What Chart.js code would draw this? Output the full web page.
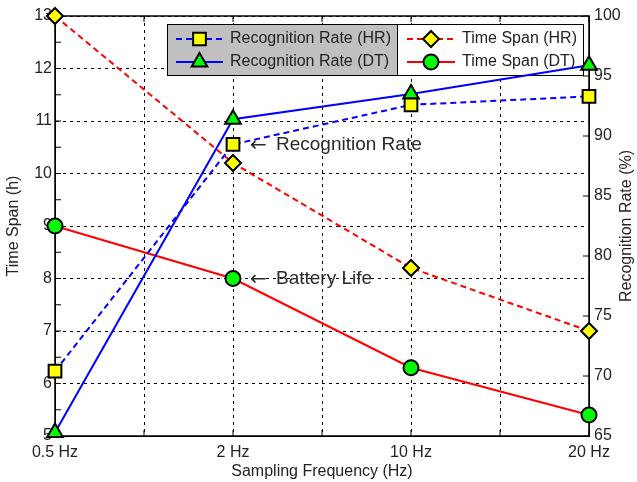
<!DOCTYPE html>
<html>
<head>
<meta charset="utf-8">
<script src="https://cdn.jsdelivr.net/npm/chart.js@4.4.1/dist/chart.umd.min.js"></script>
<style>
  html, body { margin: 0; padding: 0; background: #fff; }
</style>
</head>
<body>
<canvas id="chart" width="637" height="482"></canvas>
<script>
"use strict";

// ── Data ─────────────────────────────────────────────────────────────────────
const FREQS   = ["0.5 Hz", "2 Hz", "10 Hz", "20 Hz"];
const RATE_HR = [70.4, 89.3, 92.6, 93.3];   // % (right axis)
const RATE_DT = [65.3, 91.4, 93.5, 95.9];   // % (right axis)
const SPAN_HR = [13.0, 10.2, 8.2, 7.0];     // h (left axis)
const SPAN_DT = [9.0, 8.0, 6.3, 5.4];       // h (left axis)

const FONT = "'Liberation Sans', Arial, sans-serif";
const INK = "#222";

const pts = arr => arr.map((v, i) => ({ x: i, y: v }));

Chart.defaults.font.family = FONT;
Chart.defaults.font.size = 16;
Chart.defaults.color = INK;

// ── Frame, ticks and the two legend boxes (drawn under the data) ──
const matlabFrame = {
  id: "matlabFrame",
  beforeDatasetsDraw(chart) {
    const { ctx, chartArea: a, scales } = chart;
    const tl = 6;
    ctx.save();
    ctx.strokeStyle = "#000";
    ctx.lineWidth = 1.5;
    ctx.setLineDash([]);
    ctx.strokeRect(a.left, a.top, a.right - a.left, a.bottom - a.top);

    ctx.lineWidth = 1;
    ctx.beginPath();
    // x ticks, top and bottom
    for (let v = 0; v <= 3; v += 0.5) {
      const px = scales.x.getPixelForValue(v);
      ctx.moveTo(px, a.bottom); ctx.lineTo(px, a.bottom - tl);
      ctx.moveTo(px, a.top);    ctx.lineTo(px, a.top + tl);
    }
    // left axis, major + minor ticks
    for (let v = 5; v <= 13; v += 0.5) {
      const py = scales.y.getPixelForValue(v);
      ctx.moveTo(a.left, py); ctx.lineTo(a.left + tl, py);
    }
    // right axis ticks
    for (let v = 65; v <= 100; v += 5) {
      const py = scales.y1.getPixelForValue(v);
      ctx.moveTo(a.right, py); ctx.lineTo(a.right - tl, py);
    }
    ctx.stroke();

    // right axis title, reading bottom-to-top
    ctx.fillStyle = INK;
    ctx.font = "16px " + FONT;
    ctx.textAlign = "center";
    ctx.textBaseline = "middle";
    ctx.translate(627, (a.top + a.bottom) / 2);
    ctx.rotate(-Math.PI / 2);
    ctx.fillText("Recognition Rate (%)", 0, 0);
    ctx.restore();

    drawLegendBox(chart, [0, 1], 167, 397, "#c0c0c0", 176, 223, 230);
    drawLegendBox(chart, [2, 3], 397, 583, "#ffffff", 407, 455, 462);
  },
  afterDatasetsDraw(chart) {
    const { ctx, scales } = chart;
    const x1 = scales.x.getPixelForValue(1);
    const notes = [
      { text: "Recognition Rate", y: scales.y1.getPixelForValue(RATE_HR[1]) },
      { text: "Battery Life",     y: scales.y.getPixelForValue(SPAN_DT[1]) },
    ];
    ctx.save();
    ctx.fillStyle = "#2a2a2a";
    ctx.textBaseline = "middle";
    ctx.textAlign = "left";
    notes.forEach(n => {
      ctx.font = "20px 'DejaVu Sans', sans-serif";
      ctx.fillText("\u2190", x1 + 17, n.y + 1);
      ctx.font = "19px " + FONT;
      ctx.fillText(n.text, x1 + 43, n.y);
    });
    ctx.restore();
  },
};

function drawLegendBox(chart, idxs, left, right, bg, lineL, lineR, textX) {
  const { ctx } = chart;
  const top = 24, bottom = 75;
  const rows = [39, 62];
  ctx.save();
  ctx.fillStyle = bg;
  ctx.fillRect(left, top, right - left, bottom - top);
  ctx.strokeStyle = "#000";
  ctx.lineWidth = 1;
  ctx.strokeRect(left + 0.5, top + 0.5, right - left, bottom - top);
  idxs.forEach((di, r) => {
    const ds = chart.data.datasets[di];
    const y = rows[r];
    ctx.strokeStyle = ds.borderColor;
    ctx.lineWidth = ds.borderWidth;
    ctx.setLineDash(ds.borderDash || []);
    ctx.beginPath();
    ctx.moveTo(lineL, y); ctx.lineTo(lineR, y);
    ctx.stroke();
    ctx.setLineDash([]);
    ctx.fillStyle = ds.pointBackgroundColor;
    ctx.strokeStyle = ds.pointBorderColor;
    ctx.lineWidth = ds.pointBorderWidth;
    Chart.helpers.drawPoint(ctx, { pointStyle: ds.pointStyle, radius: ds.pointRadius, borderWidth: ds.pointBorderWidth, rotation: 0 }, (lineL + lineR) / 2, y);
    ctx.fillStyle = INK;
    ctx.font = "16px " + FONT;
    ctx.textBaseline = "middle";
    ctx.textAlign = "left";
    ctx.fillText(ds.label, textX, y);
  });
  ctx.restore();
}

const common = { borderWidth: 2, pointBorderColor: "#000", pointBorderWidth: 2, tension: 0, clip: false, pointHoverRadius: 0 };

new Chart(document.getElementById("chart"), {
  type: "line",
  data: {
    datasets: [
      { ...common, label: "Recognition Rate (HR)", yAxisID: "y1", data: pts(RATE_HR), borderColor: "#0000ff", borderDash: [6, 4], pointStyle: "rect", pointRadius: 9, pointBackgroundColor: "#ffff00" },
      { ...common, label: "Recognition Rate (DT)", yAxisID: "y1", data: pts(RATE_DT), borderColor: "#0000ff", pointStyle: "triangle", pointRadius: 9, pointBackgroundColor: "#00ff00" },
      { ...common, label: "Time Span (HR)", yAxisID: "y", data: pts(SPAN_HR), borderColor: "#ff0000", borderDash: [6, 4], pointStyle: "rectRot", pointRadius: 8, pointBackgroundColor: "#ffff00" },
      { ...common, label: "Time Span (DT)", yAxisID: "y", data: pts(SPAN_DT), borderColor: "#ff0000", pointStyle: "circle", pointRadius: 7.5, pointBackgroundColor: "#00ff00" },
    ],
  },
  options: {
    responsive: false,
    animation: false,
    devicePixelRatio: 1,
    layout: { padding: { top: 16, left: 0, right: 0, bottom: 0 } },
    plugins: { legend: { display: false }, tooltip: { enabled: false } },
    scales: {
      x: {
        type: "linear", min: 0, max: 3,
        afterFit: s => { s.height = 46; },
        ticks: { stepSize: 0.5, autoSkip: false, maxRotation: 0, padding: 7, callback: v => Number.isInteger(v) ? FREQS[v] : "" },
        grid: { color: "#000", lineWidth: 1, drawTicks: false },
        border: { dash: [3, 4], color: "#000" },
        title: { display: true, text: "Sampling Frequency (Hz)", padding: { top: 0, bottom: 1 } },
      },
      y: {
        position: "left", min: 5, max: 13,
        afterFit: s => { s.width = 55; },
        ticks: { stepSize: 1, padding: 3 },
        grid: { color: "#000", lineWidth: 1, drawTicks: false },
        border: { dash: [3, 4], color: "#000" },
        title: { display: true, text: "Time Span (h)", padding: { top: 4, bottom: 0 } },
      },
      y1: {
        position: "right", min: 65, max: 100,
        afterFit: s => { s.width = 48; },
        ticks: { stepSize: 5, padding: 5 },
        grid: { drawOnChartArea: false, drawTicks: false },
        border: { color: "#000" },
      },
    },
  },
  plugins: [matlabFrame],
});
</script>
</body>
</html>
